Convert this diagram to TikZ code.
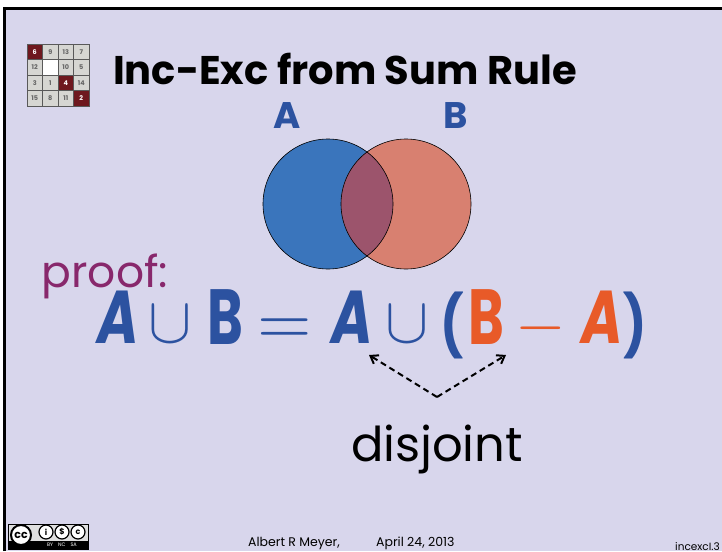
\documentclass[tikz,border=0pt]{standalone}
\usepackage{fontspec}
\setmainfont{Poppins}
\usetikzlibrary{arrows.meta, positioning}
\definecolor{slidebg}{RGB}{216,214,236}
\definecolor{setblue}{RGB}{44,82,160}
\definecolor{circblue}{RGB}{58,117,188}
\definecolor{circred}{RGB}{216,128,112}
\definecolor{overlap}{RGB}{156,84,108}
\definecolor{setorange}{RGB}{232,90,40}
\definecolor{proofpurple}{RGB}{136,40,108}
\definecolor{tiledark}{RGB}{110,24,30}
\definecolor{tilegray}{RGB}{214,214,210}
\tikzset{
  setA/.style={text=setblue, xscale=.83, yscale=1.1, font=\bfseries\itshape\fontsize{68}{68}\selectfont},
  setB/.style={text=setblue, xscale=.8, yscale=1.15, font=\bfseries\fontsize{68}{68}\selectfont},
  parenth/.style={text=setblue, xscale=.68, yscale=.83, font=\bfseries\fontsize{72}{72}\selectfont},
  mathsym/.style={text=setblue, scale=#1},
  mathsym/.default=6.5,
  foot/.style={anchor=base west, inner sep=0pt, font=\fontsize{12.5}{12.5}\selectfont},
  tile/.style={draw=gray!70!black, line width=0.5pt, fill=tilegray, minimum size=15.5pt, inner sep=0pt,
    text=black!60, font=\bfseries\fontsize{6.5}{6.5}\selectfont},
  darktile/.style={tile, fill=tiledark, text=white},
  ccring/.style={circle, draw, line width=1.2pt, fill=white, minimum size=14pt, inner sep=0pt,
    font=\bfseries\fontsize{8}{8}\selectfont},
  disjarrow/.style={-{Straight Barb[length=7pt,width=10pt]}, line width=2pt, dash pattern=on 6pt off 4pt}
}
\begin{document}
\begin{tikzpicture}[x=1pt, y=-1pt]
    \useasboundingbox (0,0) rectangle (722,551);

    % --- SLIDE BACKGROUND ---
    \fill[white] (0,0) rectangle (722,551);
    \fill[slidebg] (4,9) rectangle (722,551);
    \draw[line width=3pt] (4,551) -- (4,9) -- (722,9);

    % --- PUZZLE ICON ---
    \foreach \num/\col/\row/\sty in {6/0/0/darktile, 9/1/0/tile, 13/2/0/tile, 7/3/0/tile,
        12/0/1/tile, 10/2/1/tile, 5/3/1/tile,
        3/0/2/tile, 1/1/2/tile, 4/2/2/darktile, 14/3/2/tile,
        15/0/3/tile, 8/1/3/tile, 11/2/3/tile, 2/3/3/darktile}
      \node[\sty] (tile\num) at (34.75+15.5*\col, 51.75+15.5*\row) {\num};
    \node[tile, fill=white] (tileblank) at (50.25,67.25) {};

    % --- TITLE ---
    \node[font=\bfseries\fontsize{40}{40}\selectfont] (title) at (345,69) {Inc-Exc from Sum Rule};
    \node[text=setblue, font=\bfseries\fontsize{37}{37}\selectfont] (labelA) at (287,116) {A};
    \node[text=setblue, font=\bfseries\fontsize{37}{37}\selectfont] (labelB) at (456,116) {B};

    % --- VENN CIRCLES ---
    \fill[circblue] (328,204) circle (65);
    \fill[circred] (406,204) circle (65);
    \begin{scope}
      \clip (328,204) circle (65);
      \fill[overlap] (406,204) circle (65);
    \end{scope}
    \draw[line width=0.6pt] (328,204) circle (65);
    \draw[line width=0.6pt] (406,204) circle (65);

    % --- EQUATION ---
    \node[text=proofpurple, font=\fontsize{44}{44}\selectfont] (proof) at (105,276) {proof:};
    \node[setA] (a1) at (118,317) {A};
    \node[mathsym] (cup1) at (170,324) {$\cup$};
    \node[setB] (b1) at (225,317) {B};
    \node[mathsym=7] (eq) at (285,332) {$=$};
    \node[setA] (a2) at (352,317) {A};
    \node[mathsym] (cup2) at (407,324) {$\cup$};
    \node[parenth] (lpar) at (452,325) {(};
    \node[setB, text=setorange] (b2) at (486,317) {B};
    \node[mathsym, text=setorange] (minus) at (541,328) {$-$};
    \node[setA, text=setorange] (a3) at (602,317) {A};
    \node[parenth] (rpar) at (635,325) {)};

    % --- DISJOINT ARROWS ---
    \coordinate (apex) at (437,397);
    \coordinate (tipA) at (369,355);
    \coordinate (tipB) at (506,355);
    \draw[disjarrow] (apex) -- (tipA);
    \draw[disjarrow] (apex) -- (tipB);
    \node[font=\fontsize{48}{48}\selectfont] (disjoint) at (437,449) {disjoint};

    % --- FOOTER ---
    \node[draw, line width=1pt, fill=gray!25, minimum width=80pt, minimum height=25pt, inner sep=0pt] (badge) at (48,537) {};
    \fill (9,541) rectangle (88,549);
    \node[circle, draw, line width=2pt, fill=white, minimum size=20pt, inner sep=0pt, font=\bfseries\fontsize{11}{11}\selectfont] (cc) at (21,535) {cc};
    \node[ccring] (ccby) at (46,532) {i};
    \node[ccring] (ccnc) at (62,532) {\$};
    \node[ccring] (ccsa) at (78,532) {c};
    \node[text=white, font=\fontsize{5}{5}\selectfont] (ccterms) at (62,545) {BY\quad NC\quad SA};
    \node[foot] (author) at (248,546) {Albert R Meyer,};
    \node[foot] (date) at (376,546) {April 24, 2013};
    \node[foot, font=\fontsize{10.5}{10.5}\selectfont] (slideno) at (675,550) {incexcI.3};
\end{tikzpicture}
\end{document}
